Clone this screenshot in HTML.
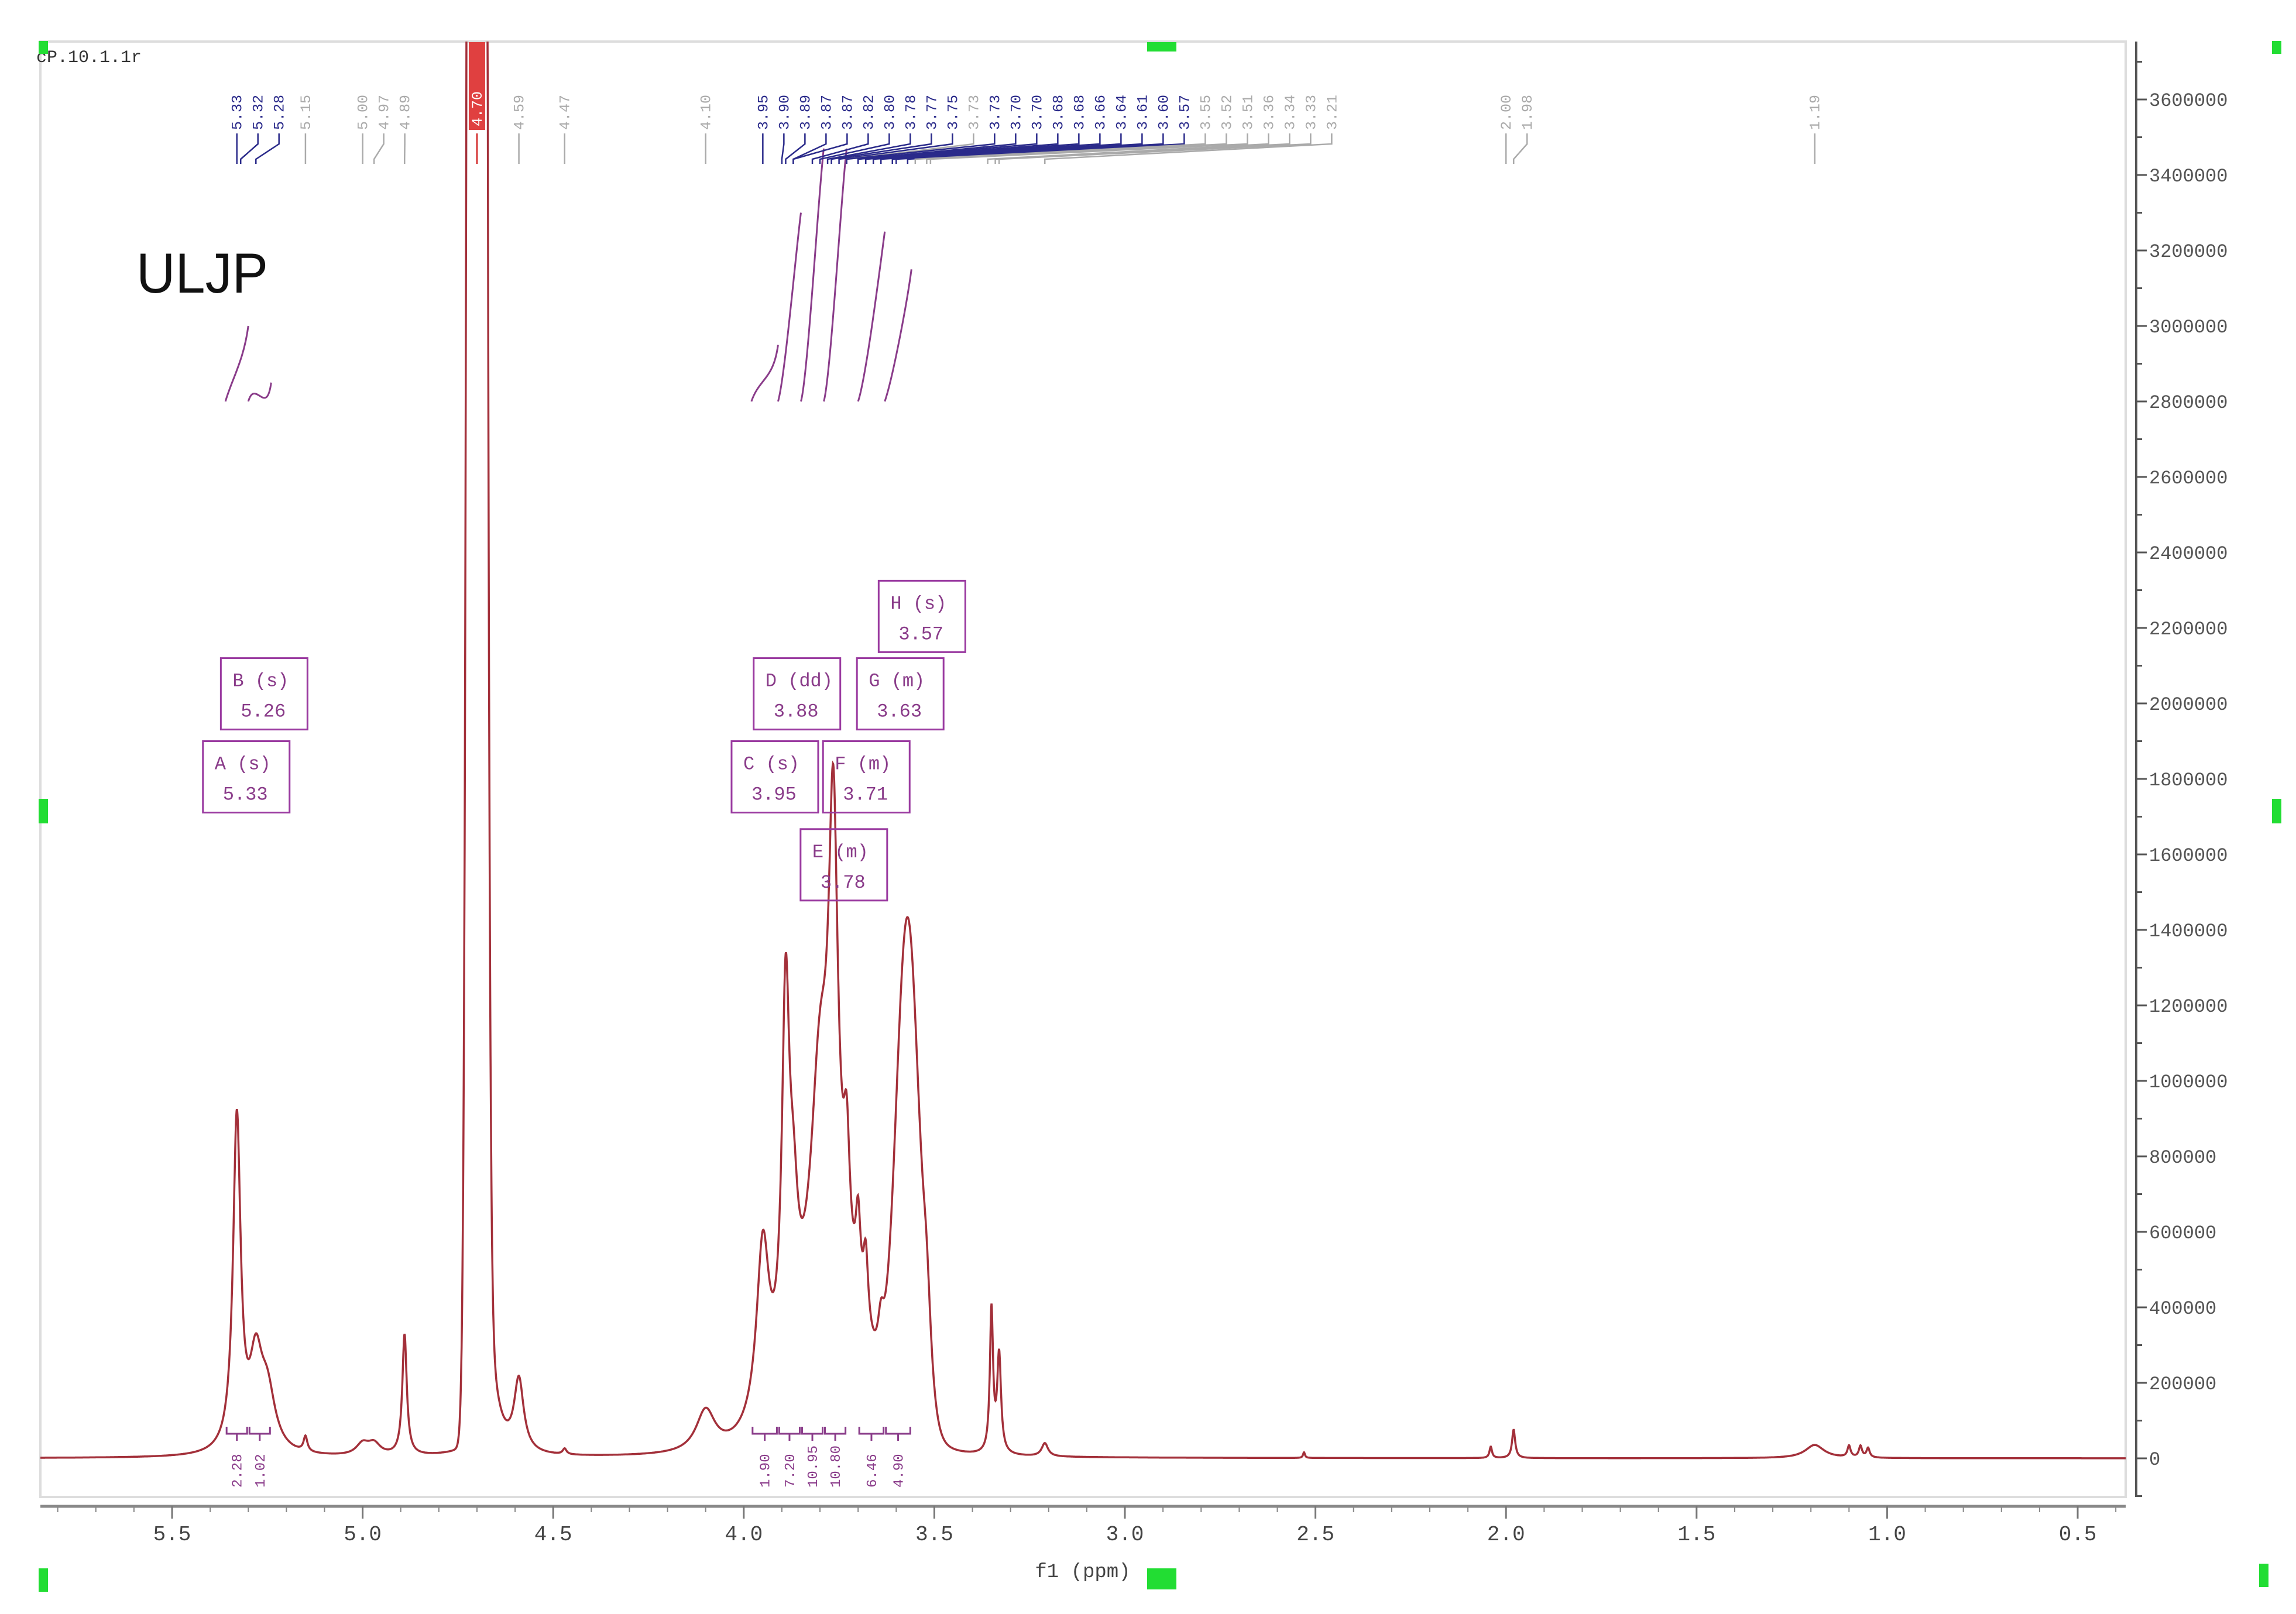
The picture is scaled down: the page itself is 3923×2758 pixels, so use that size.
<!DOCTYPE html>
<html><head><meta charset="utf-8"><style>
html,body{margin:0;padding:0;background:#fff;}
svg{display:block;font-family:"Liberation Mono","DejaVu Sans Mono",monospace;}
</style></head><body>
<svg id="chart" width="3923" height="2758" viewBox="0 0 3923 2758" xmlns="http://www.w3.org/2000/svg">
<defs><clipPath id="plotclip"><rect x="69" y="71" width="3563" height="2487"/></clipPath></defs>
<rect x="69" y="71" width="3563" height="2487" fill="none" stroke="#ddd" stroke-width="4"/>
<text x="62" y="106" font-size="30" fill="#333">cP.10.1.1r</text>
<text x="233" y="500" font-size="92" fill="#111" font-family="Liberation Sans, sans-serif" transform="scale(1,1.05) translate(0,-24)">ULJP</text>
<g id="xaxis"></g>
<g id="yaxis"></g>
<g id="integrals"></g>
<g id="spec" clip-path="url(#plotclip)"></g>
<g id="peaklabels"></g>
<g id="intlabels"></g>
<g id="boxes"></g>
<g id="markers"></g>
</svg>
<script>
// ---- data ----
const peakPpm   = [5.33, 5.28, 5.25, 5.15, 5.00, 4.97, 4.89, 4.70, 4.665, 4.59, 4.47, 4.10, 3.76, 3.95, 3.89, 3.87, 3.80, 3.765, 3.73, 3.70, 3.68, 3.64, 3.57, 3.52, 3.35, 3.33, 3.21, 2.53, 2.04, 1.98, 1.19, 1.10, 1.07, 1.05];
const peakHeight= [880000, 220000, 150000, 40000, 30000, 30000, 320000, 40000000, 250000, 190000, 15000, 110000, 330000, 460000, 950000, 300000, 650000, 1180000, 330000, 230000, 200000, 110000, 1330000, 220000, 380000, 260000, 35000, 15000, 30000, 75000, 35000, 30000, 30000, 25000];
const peakWidth = [0.012, 0.02, 0.025, 0.006, 0.02, 0.02, 0.007, 0.015, 0.025, 0.015, 0.006, 0.03, 0.12, 0.02, 0.012, 0.015, 0.03, 0.015, 0.01, 0.008, 0.008, 0.01, 0.035, 0.015, 0.005, 0.006, 0.01, 0.003, 0.004, 0.005, 0.03, 0.005, 0.005, 0.005];
const peakShape = [0,0,0,0,0,0,0,1,0,0,0,0,1,0,0,0,0,0,0,0,0,0,1,0,0,0,0,0,0,0,0,0,0,0]; // 0 lorentz, 1 gauss
const xTicks = [5.5, 5.0, 4.5, 4.0, 3.5, 3.0, 2.5, 2.0, 1.5, 1.0, 0.5];
const xTickLabels = ["5.5","5.0","4.5","4.0","3.5","3.0","2.5","2.0","1.5","1.0","0.5"];
const yTicks = [0,200000,400000,600000,800000,1000000,1200000,1400000,1600000,1800000,2000000,2200000,2400000,2600000,2800000,3000000,3200000,3400000,3600000];
const labelPpm = [5.33,5.32,5.28,5.15,5.00,4.97,4.89,4.70,4.59,4.47,4.10,3.95,3.90,3.89,3.87,3.87,3.82,3.80,3.78,3.77,3.75,3.73,3.73,3.70,3.70,3.68,3.68,3.66,3.64,3.61,3.60,3.57,3.55,3.52,3.51,3.36,3.34,3.33,3.21,2.00,1.98,1.19];
const labelText = ["5.33","5.32","5.28","5.15","5.00","4.97","4.89","4.70","4.59","4.47","4.10","3.95","3.90","3.89","3.87","3.87","3.82","3.80","3.78","3.77","3.75","3.73","3.73","3.70","3.70","3.68","3.68","3.66","3.64","3.61","3.60","3.57","3.55","3.52","3.51","3.36","3.34","3.33","3.21","2.00","1.98","1.19"];
const labelKind = [1,1,1,0,0,0,0,2,0,0,0,1,1,1,1,1,1,1,1,1,1,0,1,1,1,1,1,1,1,1,1,1,0,0,0,0,0,0,0,0,0,0]; // 1 blue, 0 gray, 2 red
const intStart = [5.36, 5.30, 3.98, 3.91, 3.85, 3.79, 3.70, 3.63];
const intEnd   = [5.30, 5.24, 3.91, 3.85, 3.79, 3.73, 3.63, 3.56];
const intLow   = [2800000, 2800000, 2800000, 2800000, 2800000, 2800000, 2800000, 2800000];
const intHigh  = [3000000, 2850000, 2950000, 3300000, 3470000, 3470000, 3250000, 3150000];
const intValues= ["2.28","1.02","1.90","7.20","10.95","10.80","6.46","4.90"];
const boxLetter= ["A (s)","B (s)","C (s)","D (dd)","E (m)","F (m)","G (m)","H (s)"];
const boxShift = ["5.33","5.26","3.95","3.88","3.78","3.71","3.63","3.57"];
const boxPpmX  = [5.419,5.372,4.032,3.974,3.851,3.792,3.703,3.646]; // left edge in ppm
const boxValY  = [1900000,2120000,1900000,2120000,1667000,1900000,2120000,2325000]; // top in intensity
// ---- axes ----
const X = p => 3550 - (p - 0.5) * 651.2;
const Y = v => 2492 - v / 200000 * 129;
const NS = "http://www.w3.org/2000/svg";
function mk(tag, attrs, parent, txt){const e=document.createElementNS(NS,tag);for(const k in attrs)e.setAttribute(k,attrs[k]);if(txt!==undefined)e.textContent=txt;parent.appendChild(e);return e;}
const gx=document.getElementById('xaxis'), gy=document.getElementById('yaxis');
let e=mk('line',{x1:69,x2:3632,y1:2574,y2:2574,stroke:'#888','stroke-width':5},gx);


for(let p=0.4;p<=5.85;p+=0.1){mk('line',{x1:X(p),x2:X(p),y1:2574,y2:2584,stroke:'#888','stroke-width':2},gx);}
xTicks.forEach((t,i)=>{
  mk('line',{x1:X(t),x2:X(t),y1:2574,y2:2595,stroke:'#777','stroke-width':3},gx);
  const l=mk('text',{x:X(t),y:2632,'font-size':36,fill:'#444','text-anchor':'middle'},gx,xTickLabels[i]);
  
  
});
e=mk('text',{x:1850,y:2695,'font-size':34,fill:'#444','text-anchor':'middle'},gx,'f1 (ppm)');


e=mk('line',{x1:3650,x2:3650,y1:71,y2:2558,stroke:'#555','stroke-width':4},gy);


for(let v=-100000;v<=3700000;v+=100000){mk('line',{x1:3650,x2:3660,y1:Y(v),y2:Y(v),stroke:'#555','stroke-width':3},gy);}
yTicks.forEach(t=>{
  mk('line',{x1:3650,x2:3668,y1:Y(t),y2:Y(t),stroke:'#555','stroke-width':3},gy);
  const l=mk('text',{x:3672,y:Y(t)+11,'font-size':32,fill:'#555'},gy,String(t));
  
  
});
// ---- spectrum ----
function intensity(p){let s=0;for(let i=0;i<peakPpm.length;i++){const d=(p-peakPpm[i])/peakWidth[i];s+=peakShape[i]?peakHeight[i]*Math.exp(-0.693*d*d):peakHeight[i]/(1+d*d);}return s;}
let pts=[];
for(let p=5.85;p>=0.37;p-=0.0008){let y=Y(intensity(p));if(y<40)y=40;pts.push(X(p).toFixed(1)+','+y.toFixed(1));}
e=mk('polyline',{points:pts.join(' '),fill:'none',stroke:'#a3303a','stroke-width':3.5},document.getElementById('spec'));


// ---- peak labels ----
const gl=document.getElementById('peaklabels');
let prev=-1e9;
labelPpm.forEach((p,i)=>{
  let lx=Math.max(X(p),prev+36); prev=lx;
  const col=labelKind[i]==1?'#2a2a8a':(labelKind[i]==2?'#d02020':'#aaa');
  if(labelKind[i]==2){mk('rect',{x:lx-14,y:72,width:28,height:150,fill:'#e04040'},gl);}
  const t=mk('text',{x:0,y:0,'font-size':25,fill:labelKind[i]==2?'#fff':col,transform:`translate(${lx+8},${labelKind[i]==2?150:156}) rotate(-90) translate(-66,0)`},gl,labelText[i]);
  
  
  mk('polyline',{points:`${lx},228 ${lx},246 ${X(p)},272 ${X(p)},280`,fill:'none',stroke:col,'stroke-width':2.5},gl);
});
// ---- integrals ----
const gi=document.getElementById('integrals'), gil=document.getElementById('intlabels');
intStart.forEach((s,i)=>{
  const c=mk('path',{d:`M${X(s)},${Y(intLow[i])} C${X(s)+ (X(intEnd[i])-X(s))*0.3},${Y(intLow[i])-40} ${X(intEnd[i])-8},${Y(intHigh[i])+60} ${X(intEnd[i])},${Y(intHigh[i])}`,fill:'none',stroke:'#8a3c8a','stroke-width':3},gi);
  
  
  const a=X(s),b=X(intEnd[i]);
  mk('polyline',{points:`${a+2},2438 ${a+2},2450 ${b-2},2450 ${b-2},2438`,fill:'none',stroke:'#8a3c8a','stroke-width':3},gil);
  mk('line',{x1:(a+b)/2,x2:(a+b)/2,y1:2450,y2:2462,stroke:'#8a3c8a','stroke-width':3},gil);
  const t=mk('text',{x:0,y:0,'font-size':24,fill:'#8a3c8a',transform:`translate(${(a+b)/2+8},2470) rotate(-90) translate(-72,0)`},gil,intValues[i]);
  
  
});
// ---- multiplet boxes ----
const gb=document.getElementById('boxes');
boxLetter.forEach((L,i)=>{
  const bx=X(boxPpmX[i]), by=Y(boxValY[i]);
  const r=mk('rect',{x:bx,y:by,width:148,height:122,fill:'none',stroke:'#9a3aa0','stroke-width':3},gb);
  
  
  mk('text',{x:bx+20,y:by+48,'font-size':32,fill:'#8a3c8a'},gb,L);
  mk('text',{x:bx+34,y:by+100,'font-size':32,fill:'#8a3c8a'},gb,boxShift[i]);
});
// ---- green markers ----
const gm=document.getElementById('markers');
[[66,70,16,22],[1960,72,50,16],[66,1365,16,42],[3882,1365,16,42],[3882,70,16,22],[66,2680,16,40],[1960,2680,50,36],[3860,2672,16,40]].forEach(m=>{
  const r=mk('rect',{x:m[0],y:m[1],width:m[2],height:m[3],fill:'#22dd33'},gm);
  
  
});
</script>
</body></html>
